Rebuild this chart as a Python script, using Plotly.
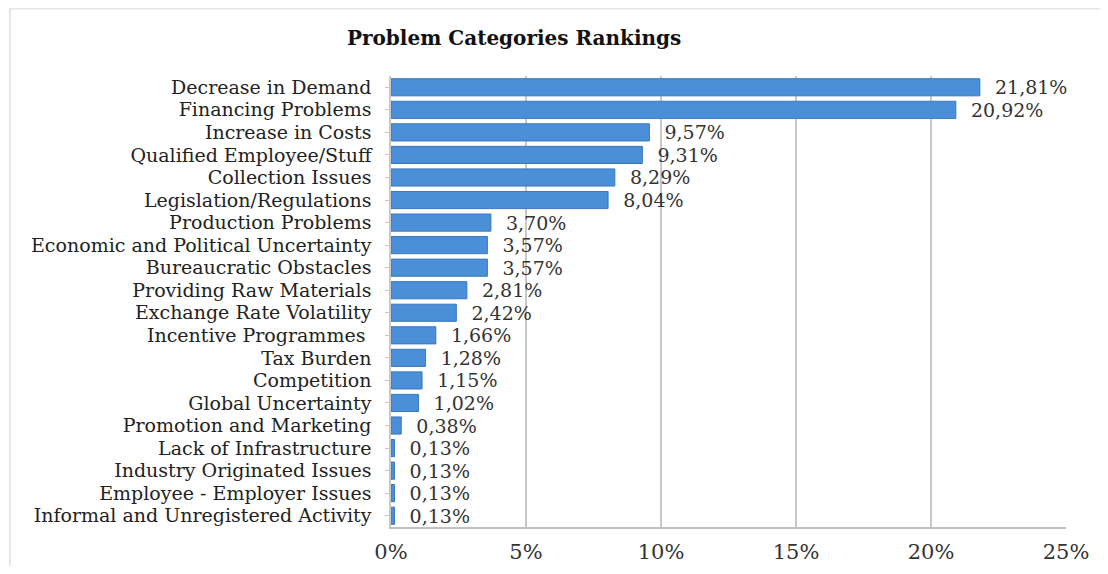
import plotly.graph_objects as go

categories = [
    "Decrease in Demand", "Financing Problems", "Increase in Costs",
    "Qualified Employee/Stuff", "Collection Issues", "Legislation/Regulations",
    "Production Problems", "Economic and Political Uncertainty",
    "Bureaucratic Obstacles", "Providing Raw Materials", "Exchange Rate Volatility",
    "Incentive Programmes ", "Tax Burden", "Competition", "Global Uncertainty",
    "Promotion and Marketing", "Lack of Infrastructure", "Industry Originated Issues",
    "Employee - Employer Issues", "Informal and Unregistered Activity",
]
values = [21.81, 20.92, 9.57, 9.31, 8.29, 8.04, 3.70, 3.57, 3.57, 2.81, 2.42,
          1.66, 1.28, 1.15, 1.02, 0.38, 0.13, 0.13, 0.13, 0.13]
tick_vals = [0, 5, 10, 15, 20, 25]
tick_text = ["0%", "5%", "10%", "15%", "20%", "25%"]

labels = ["  " + f"{v:.2f}".replace(".", ",") + "%" for v in values]

SERIF = "DejaVu Serif"

fig = go.Figure(go.Bar(
    x=values, y=categories, orientation="h",
    marker=dict(color="#4a8fd8", line=dict(color="#3a78bd", width=1)),
    width=0.76,
    text=labels, textposition="outside", cliponaxis=False, constraintext="none",
    textfont=dict(family=SERIF, size=19, color="#333333"),
))

fig.update_layout(
    template="simple_white",
    width=1092, height=558,
    paper_bgcolor="white", plot_bgcolor="white",
    margin=dict(l=383, r=34, t=68, b=39, autoexpand=False),
    title=dict(text="<b>Problem Categories Rankings</b>", x=0.4635, xanchor="center",
               xref="container", yref="container", y=0.946, yanchor="middle",
               font=dict(family=SERIF, size=20, color="#111111")),
    font=dict(family=SERIF, size=19, color="#222222"),
    showlegend=False,
    xaxis=dict(range=[0, 25], tickvals=tick_vals, ticktext=tick_text,
               showgrid=True, gridcolor="#c8c8c8", gridwidth=1.5,
               showline=True, linecolor="#c0c0c0", linewidth=1.5, mirror=False,
               zeroline=False, ticks="", automargin=False,
               tickfont=dict(family=SERIF, size=21, color="#333333"),
               ticklabelstandoff=5),
    yaxis=dict(autorange="reversed", showline=True, linecolor="#c8c8c8", linewidth=1.5,
               tickmode="array", tickvals=categories, ticktext=categories,
               ticks="outside", tickcolor="#c8c8c8", ticklen=4, automargin=False,
               showgrid=False, ticklabelstandoff=10,
               tickfont=dict(family=SERIF, size=19, color="#222222")),
    shapes=[
        dict(type="line", xref="paper", yref="paper", x0=-0.5644, x1=1.06,
             y0=1.1497, y1=1.1497, line=dict(color="#b0b0b0", width=2)),
        dict(type="line", xref="paper", yref="paper", x0=-0.5644, x1=-0.5644,
             y0=-0.1, y1=1.1497, line=dict(color="#b0b0b0", width=2)),
    ],
)

fig.write_html("out.html")
